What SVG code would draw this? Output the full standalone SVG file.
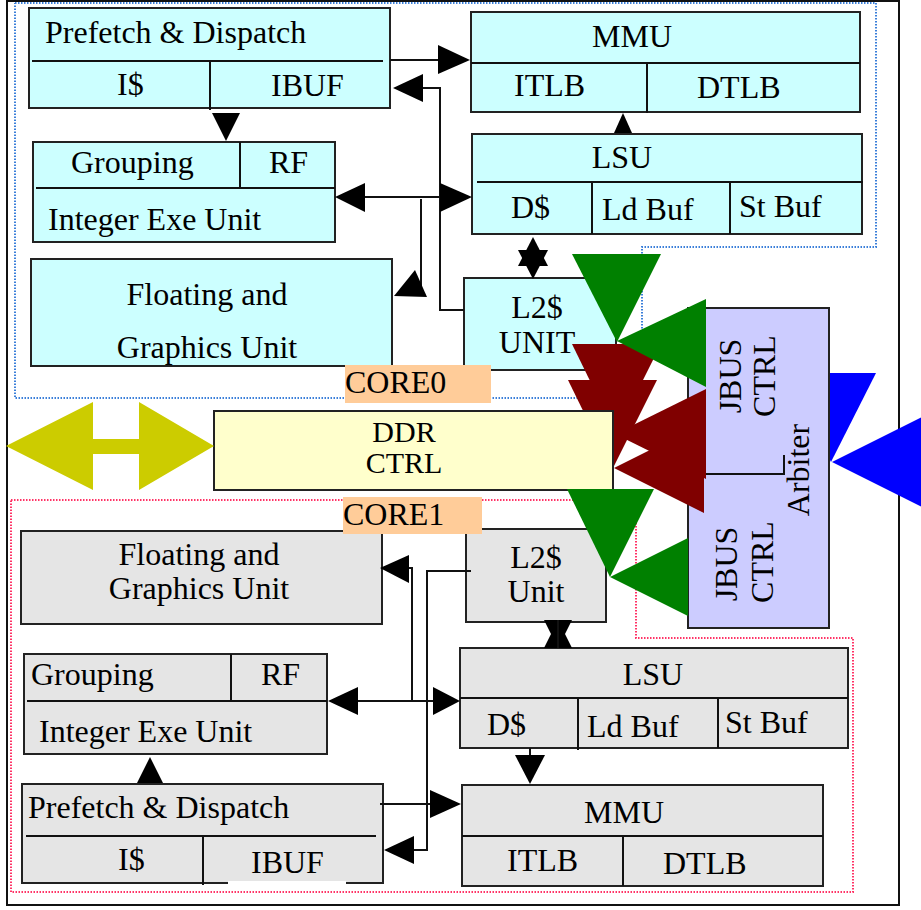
<svg xmlns="http://www.w3.org/2000/svg" width="921" height="910" viewBox="0 0 921 910">
<style>
text{font-family:"Liberation Serif","Times New Roman",serif;font-size:32px;fill:#000}
.c0{fill:#ccffff;stroke:#222;stroke-width:2}
.c1{fill:#e5e5e5;stroke:#222;stroke-width:2}
.ln{stroke:#111;stroke-width:2;fill:none}
.ah{fill:#000;stroke:none}
.mid{text-anchor:middle}
.grn{fill:#008000}
.red{fill:#800000}
.blu{fill:#0000ff}
</style>
<rect x="0" y="0" width="921" height="910" fill="#fff"/>
<g id="frame">
<rect x="7" y="1" width="892" height="904" fill="none" stroke="#111" stroke-width="2"/>
<polyline points="15,3 876,3 876,247 642,247 642,398 15,398 15,3" fill="none" stroke="#3a7fd9" stroke-width="2" stroke-dasharray="1.5 1.5"/>
<polyline points="11,500 636,500 636,638 853,638 853,892 11,892 11,500" fill="none" stroke="#ff3366" stroke-width="2" stroke-dasharray="1.5 1.5"/>
</g>
<g id="blue-arrows">
<polygon class="blu" points="786,373 876,373 831,462"/>
<polygon class="blu" points="832,462 922,417 922,507"/>
</g>
<g id="jbus-arbiter">
<rect x="688" y="308" width="141" height="320" fill="#ccccff" stroke="#222" stroke-width="2"/>
<polyline class="ln" points="692,474 784,474 784,455"/>
<text class="mid" transform="translate(741,376) rotate(-90)">JBUS</text>
<text class="mid" transform="translate(775,376) rotate(-90)">CTRL</text>
<text class="mid" transform="translate(809,470) rotate(-90)">Arbiter</text>
<text class="mid" transform="translate(737,564) rotate(-90)">JBUS</text>
<text class="mid" transform="translate(773,562) rotate(-90)">CTRL</text>
</g>
<g id="core0-pd">
<rect class="c0" x="29" y="8" width="361" height="100"/>
<line class="ln" x1="32" y1="61" x2="383" y2="61"/>
<line class="ln" x1="210" y1="61" x2="210" y2="110"/>
<text x="45" y="43">Prefetch &amp; Dispatch</text>
<text x="117" y="95">I$</text>
<text x="271" y="96">IBUF</text>
</g>
<g id="core0-int">
<rect class="c0" x="33" y="142" width="302" height="100"/>
<line class="ln" x1="36" y1="188" x2="335" y2="188"/>
<line class="ln" x1="240" y1="142" x2="240" y2="189"/>
<text x="71" y="173">Grouping</text>
<text x="269" y="173">RF</text>
<text x="48" y="230">Integer Exe Unit</text>
</g>
<g id="core0-fgu">
<rect class="c0" x="31" y="259" width="361" height="107"/>
<text class="mid" x="207" y="305">Floating and</text>
<text class="mid" x="207" y="358">Graphics Unit</text>
</g>
<g id="core0-mmu">
<rect class="c0" x="471" y="12" width="389" height="100"/>
<line class="ln" x1="471" y1="63" x2="860" y2="63"/>
<line class="ln" x1="647" y1="63" x2="647" y2="113"/>
<text class="mid" x="632" y="47">MMU</text>
<text x="514" y="96">ITLB</text>
<text x="697" y="98">DTLB</text>
</g>
<g id="core0-lsu">
<rect class="c0" x="472" y="134" width="390" height="100"/>
<line class="ln" x1="477" y1="182" x2="863" y2="182"/>
<line class="ln" x1="592" y1="182" x2="592" y2="234"/>
<line class="ln" x1="730" y1="182" x2="730" y2="234"/>
<text class="mid" x="622" y="168">LSU</text>
<text x="511" y="218">D$</text>
<text x="602" y="220">Ld Buf</text>
<text x="739" y="217">St Buf</text>
</g>
<g id="core0-l2">
<rect class="c0" x="464" y="278" width="152" height="92"/>
<text class="mid" x="537" y="318">L2$</text>
<text class="mid" x="537" y="353">UNIT</text>
</g>
<g id="core0-label">
<rect x="345" y="365" width="146" height="38" fill="#ffcc99"/>
<text x="345" y="393">CORE0</text>
</g>
<g id="red-arrows">
<polygon class="red" points="572,344 661,344 616,434"/>
<polygon class="red" points="568,380 657,380 612,470"/>
<polygon class="red" points="706,389 706,479 615,434"/>
<polygon class="red" points="704,423 704,513 614,468"/>
</g>
<g id="ddr">
<rect x="214" y="411" width="399" height="79" fill="#ffffcc" stroke="#222" stroke-width="2"/>
<text class="mid" x="404" y="442" style="font-size:30px">DDR</text>
<text class="mid" x="404" y="473" style="font-size:30px">CTRL</text>
</g>
<g id="ddr-port">
<polygon fill="#cccc00" points="6,446 93,402 93,439 139,439 139,402 214,446 139,490 139,454 93,454 93,490"/>
</g>
<g id="core1-fgu">
<rect class="c1" x="21" y="531" width="361" height="93"/>
<text class="mid" x="199" y="565">Floating and</text>
<text class="mid" x="199" y="599">Graphics Unit</text>
</g>
<g id="core1-int">
<rect class="c1" x="24" y="654" width="303" height="100"/>
<line class="ln" x1="27" y1="701" x2="327" y2="701"/>
<line class="ln" x1="231" y1="654" x2="231" y2="701"/>
<text x="31" y="685">Grouping</text>
<text x="261" y="685">RF</text>
<text x="39" y="742">Integer Exe Unit</text>
</g>
<g id="core1-pd">
<rect class="c1" x="22" y="784" width="361" height="99"/>
<rect x="228" y="881" width="118" height="4" fill="#fff"/>
<line class="ln" x1="26" y1="836" x2="376" y2="836"/>
<line class="ln" x1="203" y1="836" x2="203" y2="885"/>
<text x="28" y="818">Prefetch &amp; Dispatch</text>
<text x="118" y="870">I$</text>
<text x="251" y="873">IBUF</text>
</g>
<g id="core1-l2">
<rect class="c1" x="466" y="529" width="140" height="93"/>
<text class="mid" x="536" y="568">L2$</text>
<text class="mid" x="536" y="602">Unit</text>
</g>
<g id="core1-lsu">
<rect class="c1" x="460" y="648" width="388" height="100"/>
<line class="ln" x1="460" y1="698" x2="848" y2="698"/>
<line class="ln" x1="578" y1="698" x2="578" y2="750"/>
<line class="ln" x1="718" y1="698" x2="718" y2="748"/>
<text class="mid" x="653" y="685">LSU</text>
<text x="487" y="735">D$</text>
<text x="587" y="737">Ld Buf</text>
<text x="725" y="733">St Buf</text>
</g>
<g id="core1-mmu">
<rect class="c1" x="462" y="785" width="361" height="101"/>
<line class="ln" x1="462" y1="836" x2="823" y2="836"/>
<line class="ln" x1="623" y1="836" x2="623" y2="886"/>
<text class="mid" x="624" y="823">MMU</text>
<text x="507" y="871">ITLB</text>
<text x="663" y="874">DTLB</text>
</g>
<g id="core1-label">
<rect x="343" y="497" width="139" height="37" fill="#ffcc99"/>
<text x="343" y="525">CORE1</text>
</g>
<g id="green-arrows">
<polygon class="grn" points="572,254 661,254 617,342"/>
<polygon class="grn" points="617,341 706,299 706,387"/>
<polygon class="grn" points="567,489 654,489 610,577"/>
<polygon class="grn" points="610,577 688,538 688,616"/>
</g>
<g id="connectors">
<line class="ln" x1="390" y1="60" x2="440" y2="60"/>
<polygon class="ah" points="438,45 438,74 470,60"/>
<polyline class="ln" points="464,310 440,310 440,88 420,88"/>
<polygon class="ah" points="393,88 423,74 423,102"/>
<polygon class="ah" points="212,113 240,113 226,141"/>
<line class="ln" x1="340" y1="197" x2="468" y2="197"/>
<polygon class="ah" points="335,197 365,183 365,212"/>
<polygon class="ah" points="472,197 440,183 440,212"/>
<line class="ln" x1="421" y1="199" x2="421" y2="290"/>
<polygon class="ah" points="415,270 394,296 427,297"/>
<polygon class="ah" points="614,133 632,133 623,113"/>
<polygon class="ah" points="533,237 518,266 548,266"/>
<polygon class="ah" points="533,279 518,250 548,250"/>
<polyline class="ln" points="471,571 427,571 427,850 410,850"/>
<polygon class="ah" points="384,850 414,836 414,864"/>
<polyline class="ln" points="412,702 412,568 405,568"/>
<polygon class="ah" points="380,568 409,555 409,583"/>
<line class="ln" x1="332" y1="701" x2="456" y2="701"/>
<polygon class="ah" points="328,701 358,687 358,715"/>
<polygon class="ah" points="460,701 433,687 433,715"/>
<line class="ln" x1="380" y1="804" x2="432" y2="804"/>
<polygon class="ah" points="430,790 430,818 461,804"/>
<polygon class="ah" points="150,757 137,783 163,783"/>
<line class="ln" x1="530" y1="748" x2="530" y2="757"/>
<polygon class="ah" points="515,755 545,755 530,784"/>
<polygon class="ah" points="544,620 572,620 558,648"/>
<polygon class="ah" points="544,648 572,648 558,620"/>
<line class="ln" x1="558" y1="620" x2="558" y2="648"/>
</g>
</svg>
